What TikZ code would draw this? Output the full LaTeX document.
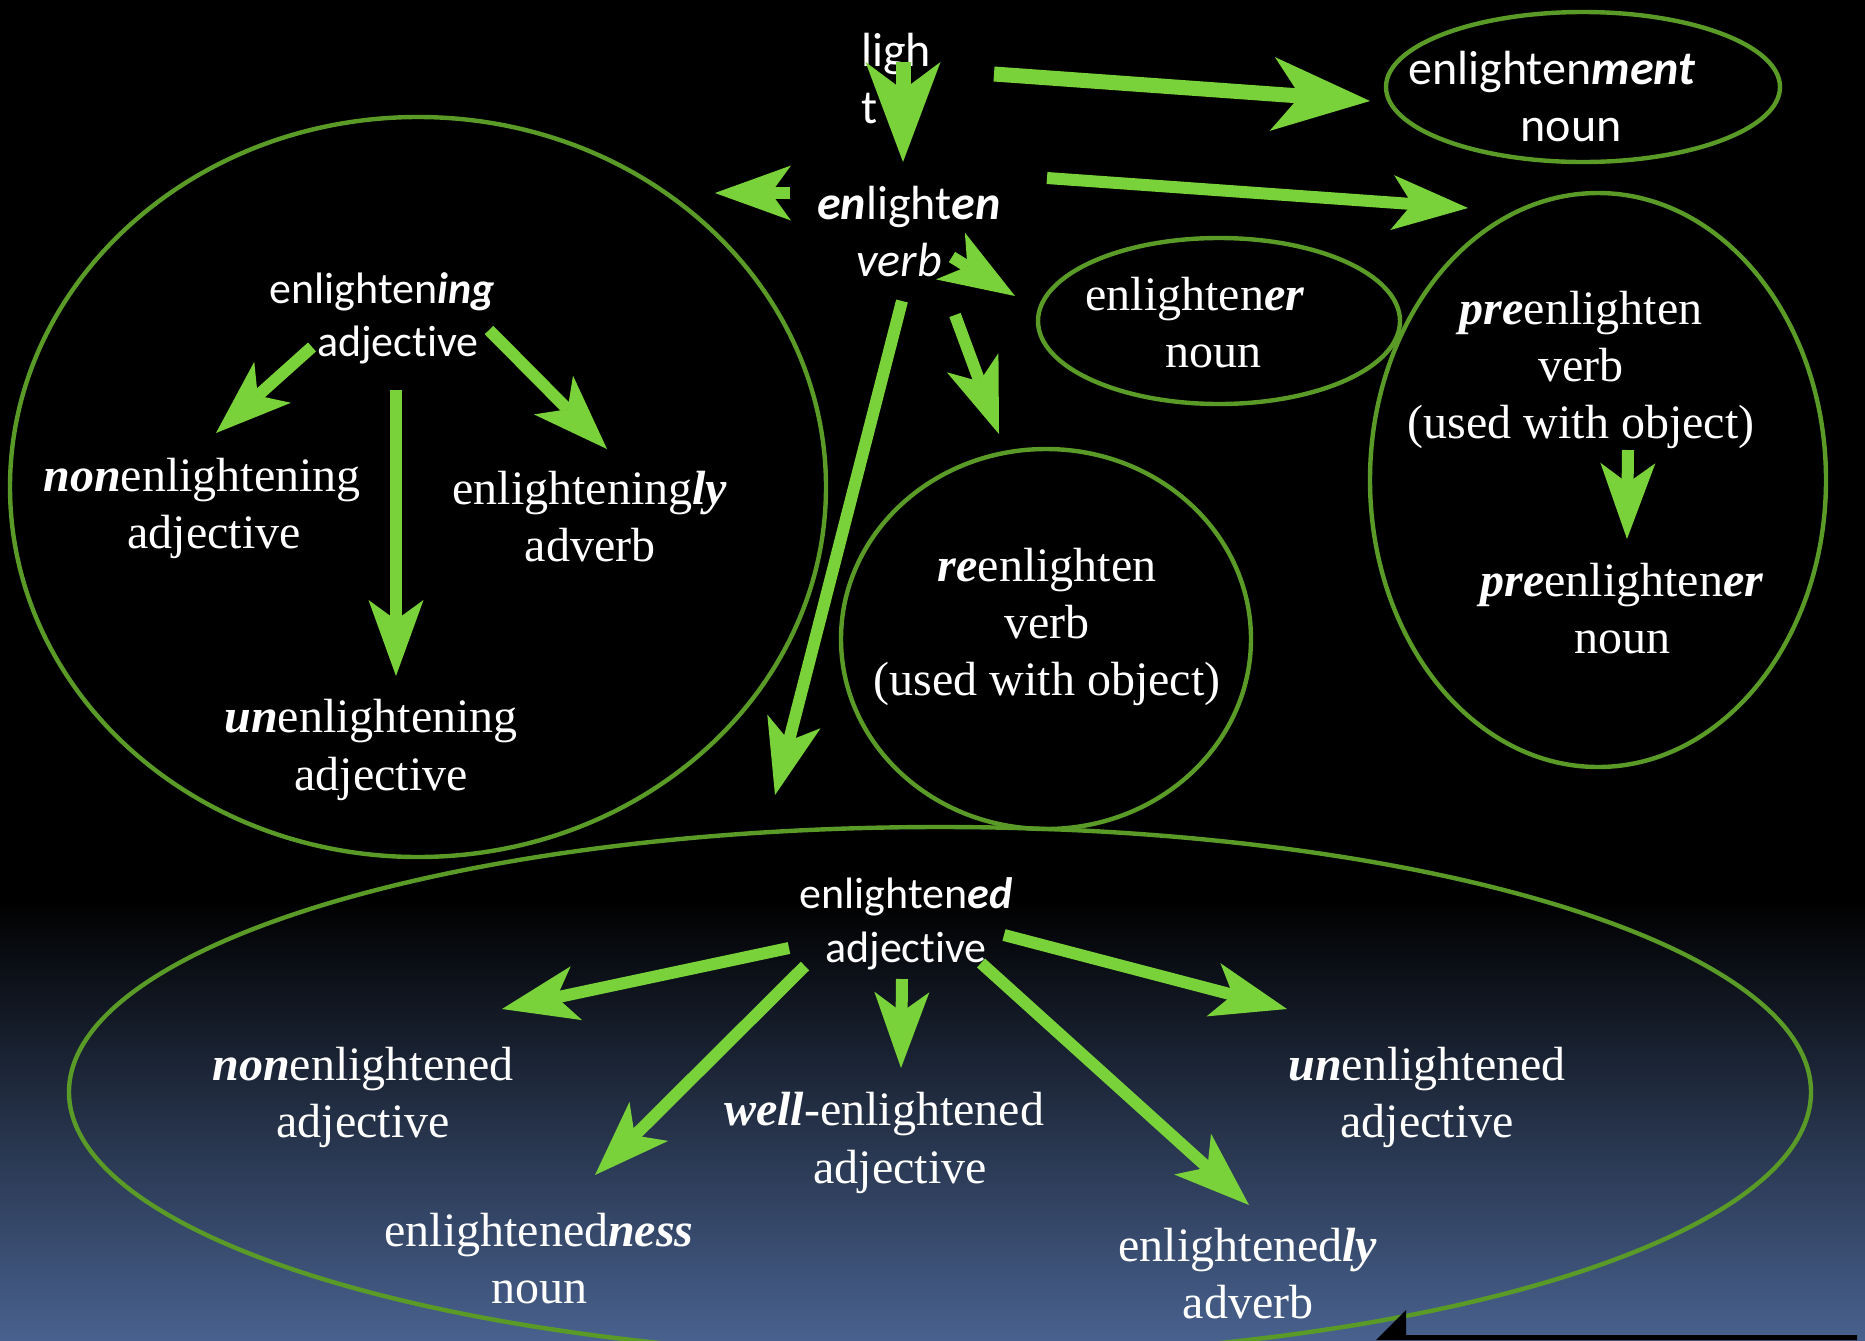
\documentclass[tikz,border=0pt]{standalone}
\usepackage{fontspec}
\setmainfont{Liberation Serif}
\newfontfamily\carl{Carlito}[Ligatures=NoCommon]
\usetikzlibrary{arrows.meta}
\definecolor{agreen}{RGB}{122,210,58}
\definecolor{egreen}{RGB}{90,155,40}
\definecolor{bbot}{RGB}{72,97,142}
\newcommand\bi[1]{\textbf{\textit{#1}}}
\begin{document}
\begin{tikzpicture}[x=0.5pt,y=-0.5pt,
  ell/.style={draw=egreen, line width=2.2pt},
  arr/.style={draw=agreen, line width=6pt, -{Stealth[length=38pt,width=27.5pt,inset=10pt,line width=0pt,fill=agreen]}},
  bigarr/.style={draw=agreen, line width=7.5pt, -{Stealth[length=49pt,width=37pt,inset=14pt,line width=0pt,fill=agreen]}},
  ser/.style={text=white, align=center, inner sep=0pt, font=\fontsize{24pt}{28.5pt}\selectfont},
  san/.style={text=white, align=center, inner sep=0pt, font=\carl\fontsize{24pt}{28.5pt}\selectfont},
  sansm/.style={text=white, align=center, inner sep=0pt, font=\carl\fontsize{22pt}{26.8pt}\selectfont}
]
\useasboundingbox (0,0) rectangle (1865,1340);
% background
\fill[black] (0,0) rectangle (1865,1340);
\shade[top color=black, bottom color=bbot] (0,900) rectangle (1865,1340);

% ellipses
\draw[ell] (418,487) ellipse [x radius=408, y radius=370];
\draw[ell] (1583,87) ellipse [x radius=197, y radius=75];
\draw[ell] (1219,321) ellipse [x radius=181, y radius=83];
\draw[ell] (1598,480) ellipse [x radius=228, y radius=287];
\draw[ell] (1046,639) ellipse [x radius=205, y radius=190];
\draw[ell] (940,1092) ellipse [x radius=871, y radius=265];

% black arrow at bottom right
\fill[black] (1376,1340) -- (1406,1310) -- (1406,1335) -- (1857,1335) -- (1857,1340) -- cycle;

% texts
\node[san, anchor=west, align=left] (light) at (861,79) {ligh\\t};
\node[san, anchor=base] (enl) at (909,219) {\bi{en}light\bi{en}};
\node[san, anchor=base] (enlb) at (899,276) {\textit{verb}};
\node[san, anchor=base] (ment) at (1552,84) {enlighten\bi{ment}};
\node[san, anchor=base] (mentb) at (1571,141) {noun};
\node[ser, anchor=base] (er) at (1195,310) {enlighten\bi{er}};
\node[ser, anchor=base] (erb) at (1213,367) {noun};
\node[ser] (pre) at (1581,370) {\bi{pre}enlighten\\verb\\(used with object)};
\node[ser] (preer) at (1622,609) {\bi{pre}enlighten\bi{er}\\noun};
\node[ser] (re) at (1047,627) {\bi{re}enlighten\\verb\\(used with object)};
\node[sansm, anchor=base] (ing) at (382,303) {enlighten\bi{ing}};
\node[sansm, anchor=base] (ingb) at (398,356) {adjective};
\node[ser, anchor=base] (noning) at (202,491) {\bi{non}enlightening};
\node[ser, anchor=base] (noningb) at (214,548) {adjective};
\node[ser] (ingly) at (590,517) {enlightening\bi{ly}\\adverb};
\node[ser, anchor=base] (uning) at (371,732) {\bi{un}enlightening};
\node[ser, anchor=base] (uningb) at (381,790) {adjective};
\node[sansm] (ed) at (906,924) {enlighten\bi{ed}\\adjective};
\node[ser] (noned) at (363,1097) {\bi{non}enlightened\\adjective};
\node[ser] (uned) at (1427,1097) {\bi{un}enlightened\\adjective};
\node[ser, anchor=base] (well) at (884,1125) {\bi{well}-enlightened};
\node[ser, anchor=base] (wellb) at (900,1183) {adjective};
\node[ser] (ness) at (539,1259) {enlightened\bi{ness}\\noun};
\node[ser] (edly) at (1248,1274) {enlightened\bi{ly}\\adverb};

% arrow end points
\coordinate (a1s) at (903,62);   \coordinate (a1e) at (903,162);
\coordinate (a2s) at (994,74);   \coordinate (a2e) at (1370,101);
\coordinate (a3s) at (1047,178); \coordinate (a3e) at (1468,208);
\coordinate (a4s) at (790,193);  \coordinate (a4e) at (715,193);
\coordinate (a5s) at (952,257);  \coordinate (a5e) at (1015,296);
\coordinate (a6s) at (955,315);  \coordinate (a6e) at (999,434);
\coordinate (a7s) at (902,301);  \coordinate (a7e) at (775,795);
\coordinate (a8s) at (312,347);  \coordinate (a8e) at (216,433);
\coordinate (a9s) at (489,330);  \coordinate (a9e) at (607,449);
\coordinate (a10s) at (396,390); \coordinate (a10e) at (396,676);
\coordinate (a11s) at (789,948); \coordinate (a11e) at (502,1009);
\coordinate (a12s) at (805,966); \coordinate (a12e) at (595,1175);
\coordinate (a13s) at (902,979); \coordinate (a13e) at (901,1068);
\coordinate (a14s) at (981,963); \coordinate (a14e) at (1249,1205);
\coordinate (a15s) at (1004,935); \coordinate (a15e) at (1287,1009);
\coordinate (a16s) at (1628,450); \coordinate (a16e) at (1627,539);

\draw[draw=agreen, line width=7.5pt, -{Stealth[length=50pt,width=37.5pt,inset=14pt,line width=0pt,fill=agreen]}] (a1s) -- (a1e);
\draw[bigarr] (a2s) -- (a2e);
\draw[arr] (a3s) -- (a3e);
\draw[arr] (a4s) -- (a4e);
\draw[arr] (a5s) -- (a5e);
\draw[arr] (a6s) -- (a6e);
\draw[arr] (a7s) -- (a7e);
\draw[arr] (a8s) -- (a8e);
\draw[arr] (a9s) -- (a9e);
\draw[arr] (a10s) -- (a10e);
\draw[arr] (a11s) -- (a11e);
\draw[arr] (a12s) -- (a12e);
\draw[arr] (a13s) -- (a13e);
\draw[arr] (a14s) -- (a14e);
\draw[arr] (a15s) -- (a15e);
\draw[arr] (a16s) -- (a16e);
\end{tikzpicture}
\end{document}
